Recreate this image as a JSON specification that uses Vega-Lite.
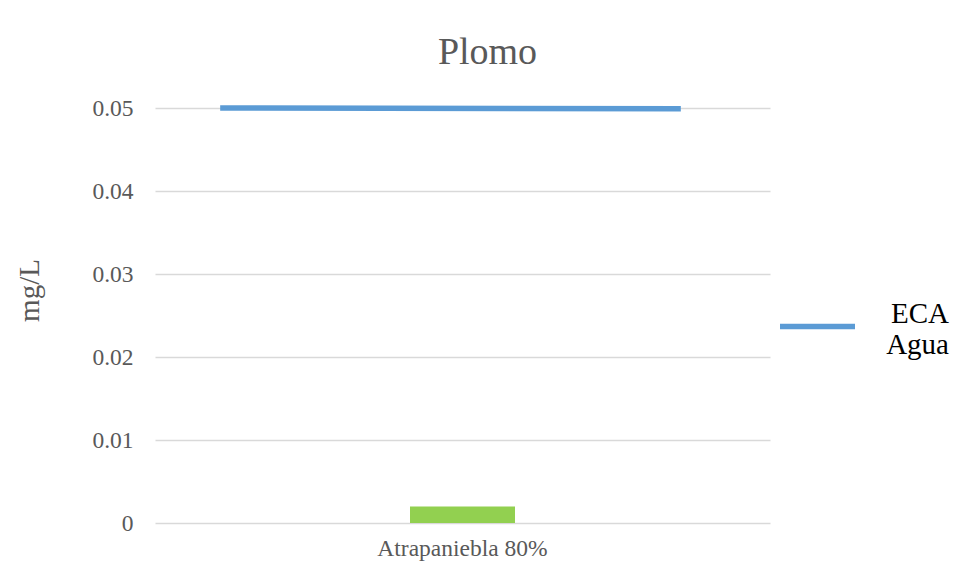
{
  "$schema": "https://vega.github.io/schema/vega-lite/v6.json",
  "width": 615,
  "height": 415,
  "autosize": {"type": "none"},
  "padding": {"left": 155, "top": 108, "right": 185, "bottom": 55},
  "background": "white",
  "config": {
    "font": "Liberation Serif",
    "view": {"stroke": null},
    "style": {"guide-label": {"lineHeight": 31}}
  },
  "title": {
    "text": "Plomo",
    "font": "Liberation Serif",
    "fontSize": 38,
    "fontWeight": "normal",
    "color": "#595959",
    "anchor": "middle",
    "frame": "group",
    "dx": 25,
    "baseline": "alphabetic",
    "offset": -6
  },
  "datasets": {
    "barras": [
      {"categoria": "Atrapaniebla 80%", "valor": 0.002}
    ],
    "eca": [
      {"posicion": 0.106, "valor": 0.05, "serie": "ECA Agua"},
      {"posicion": 0.855, "valor": 0.0499, "serie": "ECA Agua"}
    ]
  },
  "layer": [
    {
      "data": {"name": "barras"},
      "mark": {"type": "bar", "color": "#92d050", "width": 105},
      "encoding": {
        "x": {
          "field": "categoria",
          "type": "nominal",
          "axis": {
            "title": null,
            "labelAngle": 0,
            "domain": false,
            "ticks": false,
            "labelPadding": 13,
            "labelFontSize": 23.5,
            "labelColor": "#595959",
            "labelFont": "Liberation Serif"
          }
        },
        "y": {
          "field": "valor",
          "type": "quantitative",
          "scale": {"domain": [0, 0.05], "nice": false},
          "axis": {
            "title": "mg/L",
            "values": [0, 0.01, 0.02, 0.03, 0.04, 0.05],
            "labelExpr": "datum.value == 0 ? '0' : format(datum.value, '.2f')",
            "domain": false,
            "ticks": false,
            "grid": true,
            "gridColor": "#d9d9d9",
            "gridWidth": 1.5,
            "labelPadding": 22,
            "labelFontSize": 23.5,
            "labelColor": "#595959",
            "labelFont": "Liberation Serif",
            "titleFontSize": 29,
            "titleFontWeight": "normal",
            "titleColor": "#595959",
            "titleFont": "Liberation Serif",
            "titleX": -111,
            "titleY": 182,
            "titleAlign": "center",
            "titleBaseline": "bottom",
            "titleAngle": -90
          }
        }
      }
    },
    {
      "data": {"name": "eca"},
      "mark": {"type": "line", "strokeWidth": 5.5, "strokeCap": "butt"},
      "encoding": {
        "x": {
          "field": "posicion",
          "type": "quantitative",
          "scale": {"domain": [0, 1], "nice": false, "zero": false},
          "axis": null
        },
        "y": {"field": "valor", "type": "quantitative"},
        "stroke": {
          "field": "serie",
          "type": "nominal",
          "scale": {"range": ["#5b9bd5"]},
          "legend": {
            "title": null,
            "orient": "none",
            "legendX": 622,
            "legendY": 178,
            "padding": 0,
            "symbolType": "stroke",
            "symbolSize": 5625,
            "symbolStrokeWidth": 5.5,
            "labelExpr": "['ECA', 'Agua']",
            "labelFontSize": 29,
            "labelColor": "#000000",
            "labelFont": "Liberation Serif",
            "labelAlign": "right",
            "labelOffset": 91,
            "labelLimit": 200,
            "encode": {"labels": {"update": {"dy": {"value": -13}}}}
          }
        }
      }
    }
  ],
  "resolve": {"scale": {"x": "independent"}}
}
